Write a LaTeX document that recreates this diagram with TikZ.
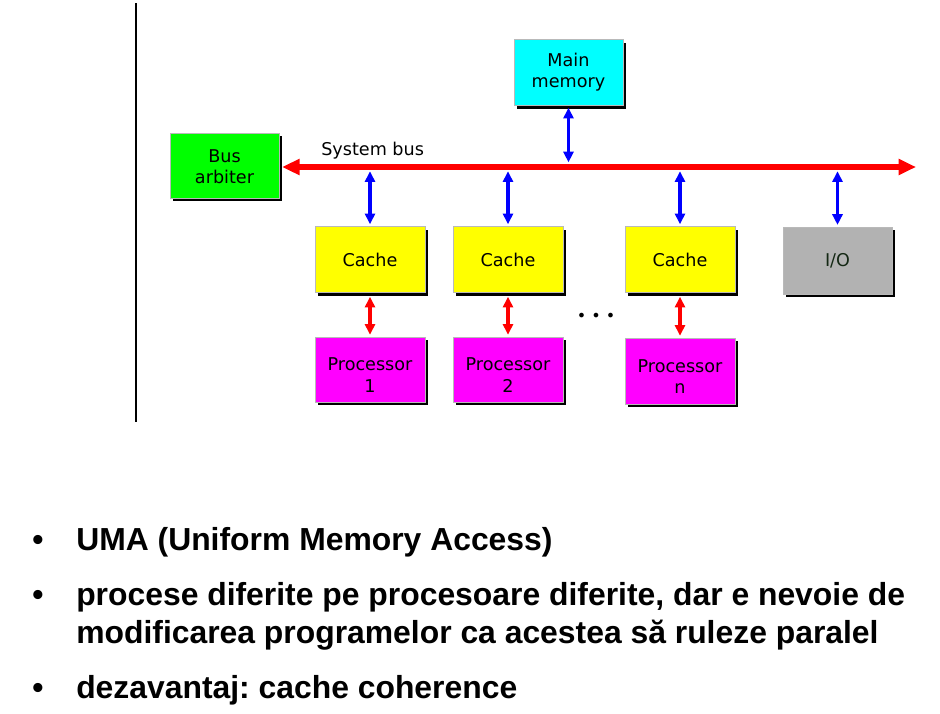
\documentclass[tikz,border=0pt]{standalone}
\usepackage{fontspec}
\setmainfont{DejaVu Sans}
\newfontfamily\arialb{Liberation Sans}[BoldFont={* Bold}]
\usetikzlibrary{arrows.meta,shadows}
\definecolor{iogray}{RGB}{178,178,178}
\definecolor{iotext}{RGB}{20,40,20}
\definecolor{mcyan}{RGB}{0,255,255}
\definecolor{mmag}{RGB}{255,0,255}
\definecolor{myel}{RGB}{255,255,0}
\definecolor{mgreen}{RGB}{0,255,0}
\definecolor{mred}{RGB}{255,0,0}
\definecolor{mblue}{RGB}{0,0,255}
\newcommand{\shiftdown}[2]{\raisebox{-#1}[\height][\depth]{#2}}
\frenchspacing
\tikzset{
  blk/.style={draw=gray!55, line width=0.4pt, inner sep=0pt, align=center,
    font=\fontsize{13.2}{16}\selectfont,
    drop shadow={shadow xshift=2.4pt, shadow yshift=-2.4pt, opacity=1, fill=black}},
  barrow/.style={draw=mblue, line width=2.3pt, {Triangle[length=8pt,width=7.5pt]}-{Triangle[length=8pt,width=7.5pt]}},
  rarrow/.style={draw=mred, line width=2.3pt, {Triangle[length=8pt,width=7.5pt]}-{Triangle[length=8pt,width=7.5pt]}},
  busarrow/.style={draw=mred, line width=4.5pt, {Triangle[length=13pt,width=11.5pt]}-{Triangle[length=13pt,width=11.5pt]}},
  bullettext/.style={anchor=base west, inner sep=0pt, font=\arialb\bfseries\fontsize{23.9}{28}\selectfont},
  bulletdot/.style={anchor=base, inner sep=0pt, font=\arialb\bfseries\fontsize{23.9}{28}\selectfont}
}
\begin{document}
\begin{tikzpicture}[x=0.75pt,y=-0.75pt]
\useasboundingbox[fill=white] (0,0) rectangle (940,714);
% vertical line
\coordinate (vt) at (136,3);
\coordinate (vb) at (136,422);
\draw[line width=1.6pt] (vt) -- (vb);
% boxes
\node[blk, fill=mcyan, minimum width=81.75pt, minimum height=49.5pt] (mm) at (568.5,72.5) {\begin{tabular}{@{}c@{}}Main\\memory\end{tabular}};
\node[blk, fill=mgreen, minimum width=81.75pt, minimum height=48.75pt] (arb) at (224.5,165.5) {\shiftdown{2.2pt}{\begin{tabular}{@{}c@{}}Bus\\arbiter\end{tabular}}};
\foreach \n/\x in {1/370,2/508,3/680}{
  \node[blk, fill=myel, minimum width=82.5pt, minimum height=49.5pt] (c\n) at (\x,259.5) {Cache};
}
\node[blk, fill=iogray, text=iotext, minimum width=81.75pt, minimum height=50pt] (io) at (837.5,260.5) {I/O};
\node[blk, fill=mmag, minimum width=82.5pt, minimum height=48.75pt] (p1) at (370,369.5) {\shiftdown{5.8pt}{\begin{tabular}{@{}c@{}}Processor\\1\end{tabular}}};
\node[blk, fill=mmag, minimum width=82.5pt, minimum height=48.75pt] (p2) at (508,369.5) {\shiftdown{5.8pt}{\begin{tabular}{@{}c@{}}Processor\\2\end{tabular}}};
\node[blk, fill=mmag, minimum width=82.5pt, minimum height=49.5pt] (p3) at (680,371) {\shiftdown{5.8pt}{\begin{tabular}{@{}c@{}}Processor\\n\end{tabular}}};
% bus
\coordinate (busR) at (916,167);
\draw[busarrow, shorten <=2.2pt] (arb.east |- busR) -- (busR);
\node[font=\fontsize{13.2}{16}\selectfont, anchor=base west, inner sep=0pt] (sb) at (321,155.5) {System bus};
% blue arrows
\draw[barrow, shorten <=1.5pt, shorten >=3.5pt] (mm.south) -- (mm.south |- busR);
\foreach \b in {c1,c2,c3,io}{
  \draw[barrow, shorten <=3.2pt, shorten >=1.5pt] (\b.north |- busR) -- (\b.north);
}
% red arrows
\foreach \n in {1,2,3}{
  \draw[rarrow, shorten <=3pt, shorten >=1.5pt] (c\n.south) -- (p\n.north);
}
% dots
\node[font=\fontsize{12}{14}\selectfont, inner sep=0pt] (dots) at (596,317) {• • •};
% bullet list
\node[bulletdot] (d1) at (38,550) {•};
\node[bullettext] (t1) at (76,550) {UMA (Uniform Memory Access)};
\node[bulletdot] (d2) at (38,605) {•};
\node[bullettext] (t2) at (76,605) {procese diferite pe procesoare diferite, dar e nevoie de};
\node[bullettext] (t3) at (76,643) {modificarea programelor ca acestea să ruleze paralel};
\node[bulletdot] (d4) at (38,698) {•};
\node[bullettext] (t4) at (76,698) {dezavantaj: cache coherence};
\end{tikzpicture}
\end{document}
